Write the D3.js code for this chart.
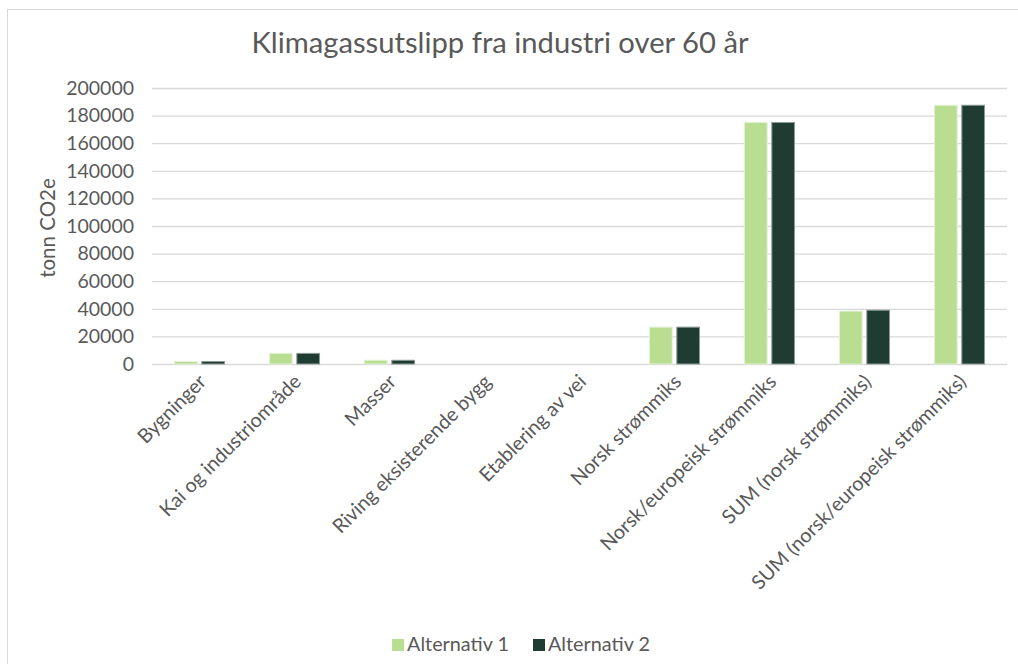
<!DOCTYPE html>
<html>
<head>
<meta charset="utf-8">
<script src="https://cdn.jsdelivr.net/npm/d3@7"></script>
<style>
	body { margin: 0; background: #fff; }
	text { font-family: Lato, "Open Sans", sans-serif; fill: #595959; }
</style>
</head>
<body>
<svg id="chart"></svg>
<script>
var categories = ['Bygninger', 'Kai og industriområde', 'Masser', 'Riving eksisterende bygg', 'Etablering av vei',
	'Norsk strømmiks', 'Norsk/europeisk strømmiks', 'SUM (norsk strømmiks)', 'SUM (norsk/europeisk strømmiks)'];
var seriesNames = ['Alternativ 1', 'Alternativ 2'];
var alternativ1 = [1800, 7700, 2700, 0, 0, 26700, 175000, 38300, 187500];
var alternativ2 = [1800, 7700, 2700, 0, 0, 26700, 175000, 39000, 187500];
var yTicks = [0, 20000, 40000, 60000, 80000, 100000, 120000, 140000, 160000, 180000, 200000];
var colors = ['#b9dd91', '#1f3c33'];

var width = 1018, height = 664;
var margin = { left: 152, right: 11, top: 88, bottom: 300 };

var svg = d3.select('#chart').attr('width', width).attr('height', height);

// outer chart frame, only top and left edges are visible
svg.append('rect').attr('x', 7.5).attr('y', 9.5).attr('width', 1100).attr('height', 800)
	.attr('fill', 'none').attr('stroke', '#d9d9d9');

svg.append('text').attr('x', 500).attr('y', 53).attr('text-anchor', 'middle')
	.style('font-size', '29.2px').text('Klimagassutslipp fra industri over 60 år');

var x = d3.scaleBand().domain(categories).range([margin.left, width - margin.right]).padding(0);
var y = d3.scaleLinear().domain([0, 200000]).range([height - margin.bottom, margin.top]);

var groupW = x.bandwidth() * 0.527;
var xs = d3.scaleBand().domain(seriesNames)
	.range([(x.bandwidth() - groupW) / 2, (x.bandwidth() + groupW) / 2]).paddingInner(0.17);

// gridlines + tick labels
var yAxis = svg.append('g').attr('transform', 'translate(' + margin.left + ',0)')
	.call(d3.axisLeft(y).tickValues(yTicks).tickSize(-(width - margin.left - margin.right)).tickPadding(18).tickFormat(d3.format('d')));
yAxis.select('.domain').remove();
yAxis.selectAll('.tick line').attr('stroke', '#d9d9d9').attr('stroke-width', 1.3);
yAxis.selectAll('.tick text').style('font-size', '19.5px').attr('fill', '#595959').style('font-family', 'Lato, sans-serif');

svg.append('text').attr('transform', 'translate(55,228) rotate(-90)').attr('text-anchor', 'middle')
	.style('font-size', '20.5px').text('tonn CO2e');

var data = categories.map(function(c, i) {
	return { cat: c, values: [alternativ1[i], alternativ2[i]] };
});

var groups = svg.selectAll('.cat').data(data).enter().append('g')
	.attr('transform', function(d) { return 'translate(' + x(d.cat) + ',0)'; });

groups.selectAll('rect').data(function(d) {
	return d.values.map(function(v, j) { return { name: seriesNames[j], value: v, j: j }; });
}).enter().filter(function(d) { return d.value > 0; }).append('rect')
	.attr('x', function(d) { return xs(d.name); })
	.attr('width', xs.bandwidth())
	.attr('y', function(d) { return y(d.value); })
	.attr('height', function(d) { return y(0) - y(d.value); })
	.attr('fill', function(d) { return colors[d.j]; })
	.attr('stroke', function(d) { return d.j == 0 ? '#e3f1d3' : '#8c9a95'; })
	.attr('stroke-width', 1);

// rotated category labels
svg.selectAll('.xlabel').data(categories).enter().append('text')
	.attr('class', 'xlabel')
	.attr('transform', function(d) { return 'translate(' + (x(d) + x.bandwidth() / 2 - 2) + ',373) rotate(-45)'; })
	.attr('text-anchor', 'end').attr('dy', '0.71em')
	.style('font-size', '19.8px').text(function(d) { return d; });

// legend
var legend = svg.append('g');
var lx = 0;
seriesNames.forEach(function(name, i) {
	legend.append('rect').attr('x', lx).attr('y', 639).attr('width', 12).attr('height', 12).attr('fill', colors[i]);
	var t = legend.append('text').attr('x', lx + 15).attr('y', 651).style('font-size', '19.8px').text(name);
	lx += 15 + t.node().getComputedTextLength() + 24;
});
var legW = lx - 24;
legend.attr('transform', 'translate(' + (521 - legW / 2) + ',0)');
</script>
</body>
</html>
